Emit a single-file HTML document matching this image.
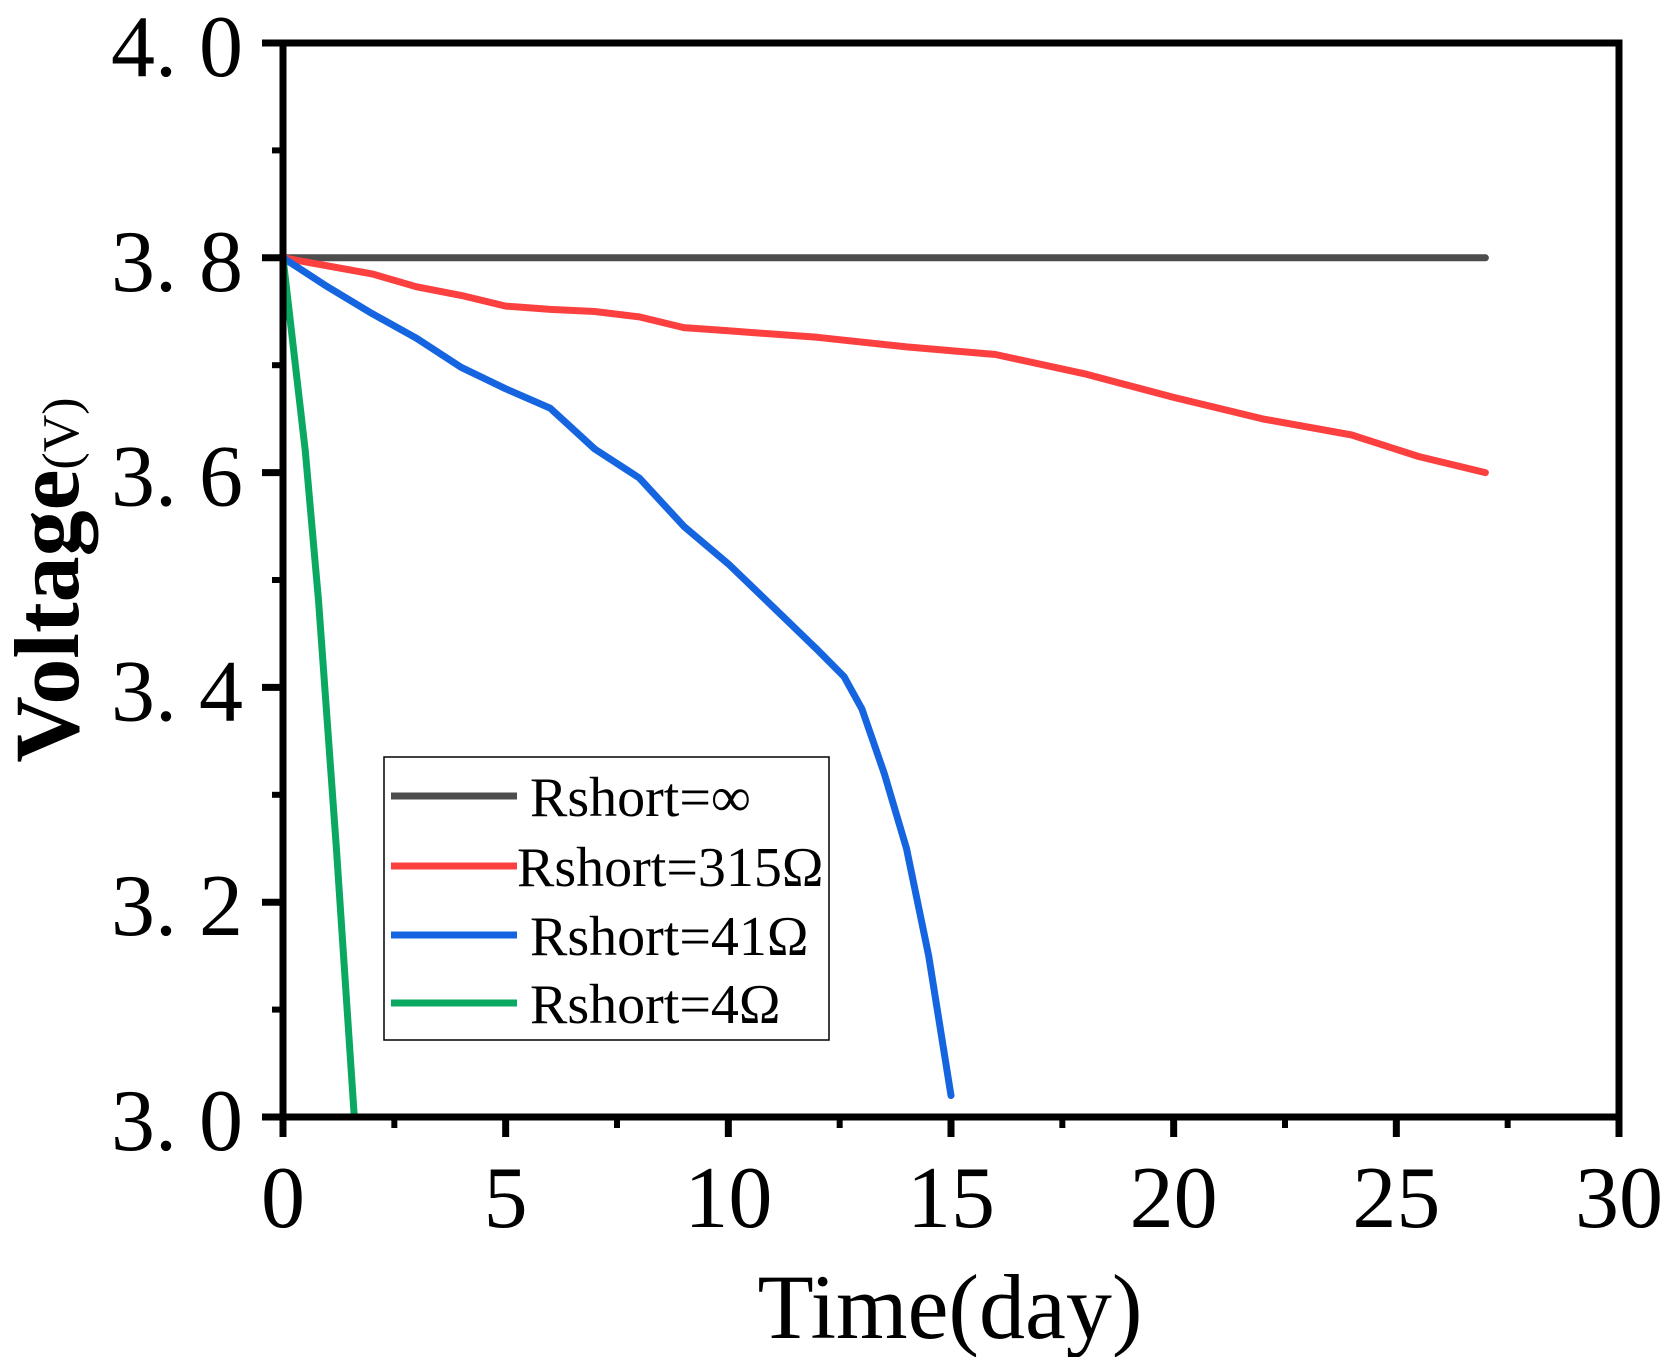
<!DOCTYPE html>
<html><head><meta charset="utf-8"><style>
html,body{margin:0;padding:0;background:#fff;}
svg{display:block;}
text{font-family:"Liberation Serif","Noto Serif CJK SC",serif;fill:#000;}
</style></head><body>
<svg id="chart" width="1672" height="1357" viewBox="0 0 1672 1357" xmlns="http://www.w3.org/2000/svg">
<g id="plot"></g>
</svg>
<script>
const xTicks=[0,5,10,15,20,25,30];
const yTicks=[3.0,3.2,3.4,3.6,3.8,4.0];
const yTickLabels=["3. 0","3. 2","3. 4","3. 6","3. 8","4. 0"];
const seriesNames=["Rshort=∞","Rshort=315Ω","Rshort=41Ω","Rshort=4Ω"];
const seriesColors=["#4d4d4d","#fc4040","#1565e0","#0aa860"];
const blackX=[0,27];
const blackY=[3.8,3.8];
const redX=[0,2,3,4,5,6,7,8,9,10,12,14,16,18,20,22,24,25.5,27];
const redY=[3.8,3.785,3.773,3.765,3.755,3.752,3.75,3.745,3.735,3.732,3.726,3.717,3.71,3.692,3.67,3.65,3.635,3.615,3.6];
const blueX=[0,1,2,3,4,5,6,7,8,9,10,11,12,12.6,13,13.5,14,14.5,15];
const blueY=[3.8,3.773,3.748,3.725,3.698,3.678,3.66,3.622,3.595,3.55,3.515,3.475,3.435,3.41,3.38,3.32,3.25,3.15,3.02];
const greenX=[0,0.5,0.8,1.2,1.6];
const greenY=[3.8,3.62,3.48,3.25,3.0];

const L=283,R=1619,T=43,B=1117;
const xs=d=>L+(d-0)/30*(R-L);
const ys=v=>B-(v-3.0)/1.0*(B-T);
const NS="http://www.w3.org/2000/svg";
const g=document.getElementById('plot');
function mk(tag,attrs,parent){const e=document.createElementNS(NS,tag);for(const k in attrs)e.setAttribute(k,attrs[k]);(parent||g).appendChild(e);return e;}

const series=[[blackX,blackY],[redX,redY],[blueX,blueY],[greenX,greenY]];
const sNames=["series-rshort-inf","series-rshort-315","series-rshort-41","series-rshort-4"];
series.forEach((s,i)=>{
  const pts=s[0].map((x,j)=>xs(x).toFixed(1)+","+ys(s[1][j]).toFixed(1)).join(" ");
  const p=mk('polyline',{points:pts,fill:"none",stroke:seriesColors[i],"stroke-width":7,"stroke-linejoin":"round","stroke-linecap":"round"});
  
  
});

const fr=mk('rect',{x:L,y:T,width:R-L,height:B-T,fill:"none",stroke:"#000","stroke-width":7});



xTicks.forEach(t=>{
  const tk=mk('line',{x1:xs(t),x2:xs(t),y1:B,y2:B+20,stroke:"#000","stroke-width":7});
  
  
  const lb=mk('text',{x:xs(t),y:1227,"font-size":88,"text-anchor":"middle"});
  lb.textContent=String(t);
  
  
});
for(let t=2.5;t<30;t+=5){
  const m=mk('line',{x1:xs(t),x2:xs(t),y1:B,y2:B+11,stroke:"#000","stroke-width":6});
  
  
}
yTicks.forEach((t,i)=>{
  const tk=mk('line',{x1:L-21,x2:L,y1:ys(t),y2:ys(t),stroke:"#000","stroke-width":7});
  
  
  const lb=mk('text',{x:243,y:ys(t)+33,"font-size":88,"text-anchor":"end"});
  lb.textContent=yTickLabels[i];
  
  
});
for(let t=3.1;t<4;t+=0.2){
  const m=mk('line',{x1:L-11,x2:L,y1:ys(t),y2:ys(t),stroke:"#000","stroke-width":6});
  
  
}

const xt=mk('text',{x:950,y:1338,"font-size":92,"text-anchor":"middle"});
xt.textContent="Time(day)";


const yt=mk('text',{x:0,y:0,"font-size":92,"font-weight":"bold","text-anchor":"middle",transform:"translate(78,580) rotate(-90)"});
yt.innerHTML='Voltage<tspan font-size="52" font-weight="normal">(V)</tspan>';



const lg=mk('g',{});


const lbx=mk('rect',{x:384,y:757,width:445,height:283,fill:"#fff",stroke:"#000","stroke-width":1.5},lg);


const ly=[796,866,935,1003];
const tx=[530,517,530,530];
seriesNames.forEach((n,i)=>{
  const ln=mk('line',{x1:391,x2:517,y1:ly[i],y2:ly[i],stroke:seriesColors[i],"stroke-width":7},lg);
  
  
  const t=mk('text',{x:tx[i],y:ly[i]+20,"font-size":56},lg);
  t.textContent=n;
  
  
});
</script>
</body></html>
